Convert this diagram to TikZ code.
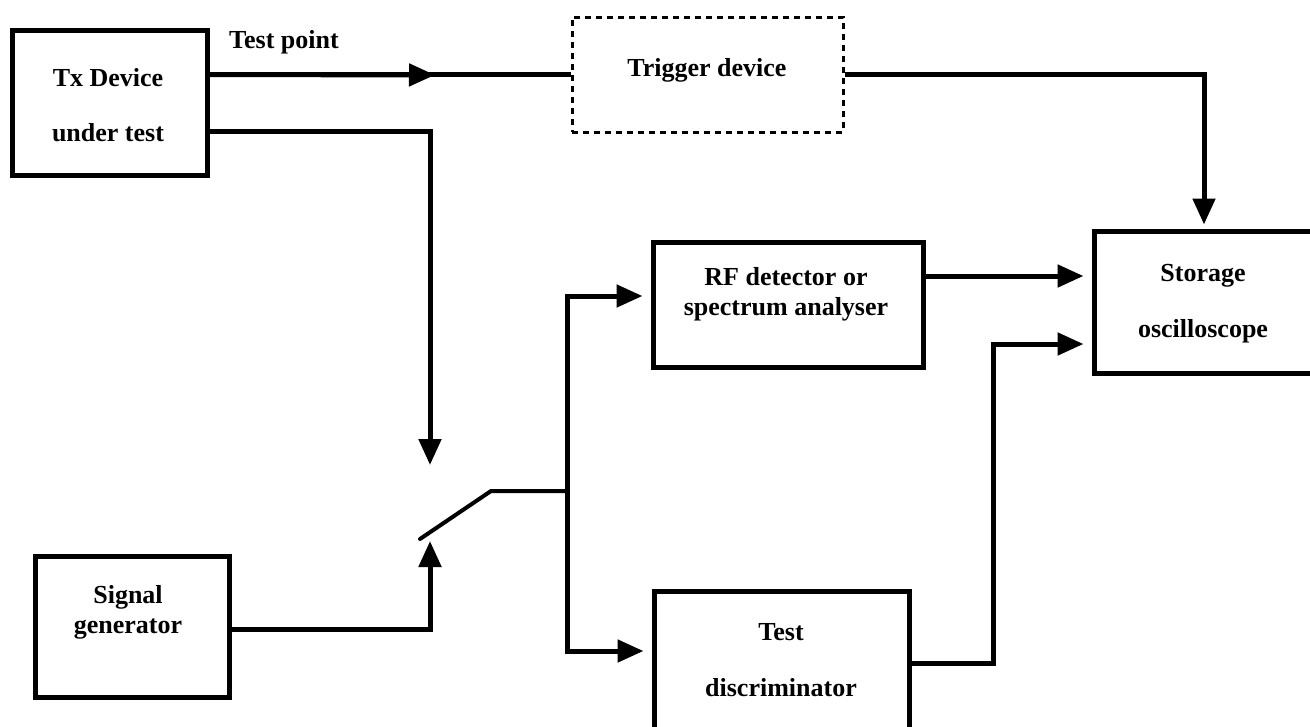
\documentclass[tikz,border=0pt]{standalone}
\usepackage{fontspec}
\setmainfont{Liberation Serif}
\usetikzlibrary{arrows.meta}
\begin{document}
\begin{tikzpicture}[x=1pt,y=-1pt,
  blk/.style={draw,line width=5pt,inner sep=0pt},
  dashblk/.style={draw,line width=3pt,dash pattern=on 6pt off 5pt,inner sep=0pt},
  lbl/.style={font=\bfseries\fontsize{26}{30}\selectfont,align=center,inner sep=0pt},
  wire/.style={line width=5pt},
  conn/.style={wire,-{Triangle[length=26pt,width=22pt]}},
  into/.style={conn,shorten >=8pt},
  lever/.style={line width=4pt,line cap=round}]
\useasboundingbox (0,0) rectangle (1310,726);
\node[blk,minimum width=195pt,minimum height=145pt] (tx) at (109.5,102.5) {};
\node[lbl] (txlbl) at (108,105.5) {Tx Device\\[25pt]under test};
\node[dashblk,minimum width=271pt,minimum height=115pt] (trig) at (707.5,74.5) {};
\node[lbl] (triglbl) at (707,70) {Trigger device};
\node[blk,minimum width=270pt,minimum height=125pt] (rf) at (788,304.5) {};
\node[lbl] (rflbl) at (786,294.5) {RF detector or\\spectrum analyser};
\node[blk,minimum width=220pt,minimum height=142pt] (stor) at (1204,302) {};
\node[lbl] (storlbl) at (1203,304) {Storage\\[26pt]oscilloscope};
\node[blk,minimum width=194pt,minimum height=141pt] (sig) at (132,626.5) {};
\node[lbl] (siglbl) at (128,612.5) {Signal\\generator};
\node[blk,minimum width=255pt,minimum height=144pt] (disc) at (781.5,663) {};
\node[lbl] (disclbl) at (781,660) {Test\\[26pt]discriminator};
\node[lbl,anchor=base west] (tplbl) at (229,48) {Test point};
\coordinate (tpin) at (435,75);
\coordinate (swin) at (430,465);
\coordinate (swgen) at (430,541);
\coordinate (lever) at (420,539);
\coordinate (pivot) at (491,491);
\coordinate (swout) at (567,491);
\coordinate (bend) at (993,344);
\draw[wire] (tx.east |- trig.west) -- (trig.west);
\draw[conn] (tx.east |- trig.west) -- (tpin);
\draw[conn,shorten >=4pt] (trig.east) -| (stor.north);
\draw[conn] (tx.east |- 0,131) -| (swin);
\draw[conn] (sig.east |- 0,629) -| (swgen);
\draw[lever] (lever) -- (pivot) -- (swout);
\draw[into] (swout) |- (rf.west |- 0,296);
\draw[into] (swout) |- (disc.west |- 0,651);
\draw[into] (rf.east |- 0,276) -- (stor.west |- 0,276);
\draw[into] (disc.east |- 0,663) -| (bend) -- (stor.west |- bend);
\end{tikzpicture}
\end{document}
